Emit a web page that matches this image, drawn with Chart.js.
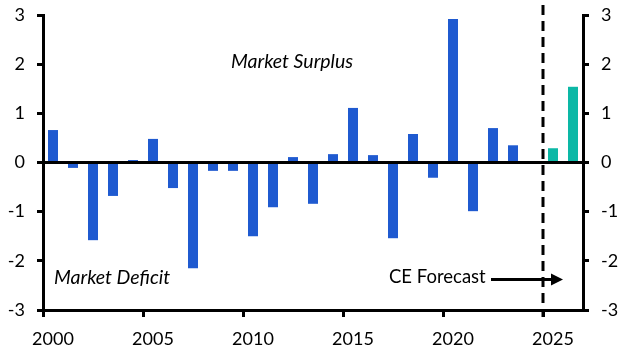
<!DOCTYPE html>
<html>
<head>
<meta charset="utf-8">
<script src="https://cdn.jsdelivr.net/npm/chart.js@4"></script>
<style>
    html, body { margin: 0; padding: 0; background: #fff; }
    #wrap { width: 633px; height: 362px; }
</style>
</head>
<body>
<div id="wrap"><canvas id="chart" width="633" height="362"></canvas></div>
<script>
/* global Chart */

const years = [];
for (let y = 2000; y <= 2026; y++) years.push(String(y));

// market balance, actuals (blue) and CE forecast (teal)
const actual = [0.66, -0.11, -1.58, -0.68, 0.05, 0.48, -0.52, -2.15, -0.17, -0.17,
    -1.50, -0.91, 0.11, -0.84, 0.17, 1.11, 0.15, -1.54, 0.58, -0.31,
    2.92, -0.99, 0.70, 0.35, null, null, null];
const forecast = [null, null, null, null, null, null, null, null, null, null,
    null, null, null, null, null, null, null, null, null, null,
    null, null, null, null, null, 0.29, 1.54];

const yTicks = [-3, -2, -1, 0, 1, 2, 3];
const forecastStart = '2025';

const FONT = 'Lato';
const BLUE = '#1f5ad0';
const TEAL = '#0cb8a6';

const annotations = {
    id: 'annotations',
    afterDatasetsDraw(chart) {
        const { ctx, scales: { x, y } } = chart;
        const i = years.indexOf(forecastStart);
        const xLine = (x.getPixelForValue(i - 1) + x.getPixelForValue(i)) / 2;

        ctx.save();
        // forecast divider
        ctx.strokeStyle = '#000';
        ctx.lineWidth = 3;
        ctx.setLineDash([10, 6]);
        ctx.beginPath();
        ctx.moveTo(xLine, 5);
        ctx.lineTo(xLine, y.bottom + 7);
        ctx.stroke();
        ctx.setLineDash([]);

        ctx.fillStyle = '#000';
        ctx.textBaseline = 'middle';
        ctx.font = `italic 19.5px ${FONT}`;
        ctx.textAlign = 'left';
        ctx.fillText('Market Surplus', 231, y.getPixelForValue(2.05));
        ctx.fillText('Market Deficit', 54, y.getPixelForValue(-2.35));

        ctx.font = `18.5px ${FONT}`;
        ctx.fillText('CE Forecast', 389, y.getPixelForValue(-2.33));

        // arrow
        const ay = y.getPixelForValue(-2.38);
        ctx.lineWidth = 3;
        ctx.beginPath();
        ctx.moveTo(491, ay);
        ctx.lineTo(552, ay);
        ctx.stroke();
        ctx.beginPath();
        ctx.moveTo(563, ay);
        ctx.lineTo(551, ay - 6);
        ctx.lineTo(551, ay + 6);
        ctx.closePath();
        ctx.fill();
        ctx.restore();
    }
};

const tickFont = { family: FONT, size: 18 };

function fitY(width) {
    return s => {
        s.width = width;
        s.paddingTop = 0;
        s.paddingBottom = 0;
    };
}

new Chart(document.getElementById('chart'), {
    type: 'bar',
    data: {
        labels: years,
        datasets: [
            { label: 'Actual', data: actual, backgroundColor: BLUE, barPercentage: 0.5, categoryPercentage: 1 },
            { label: 'Forecast', data: forecast, backgroundColor: TEAL, barPercentage: 0.5, categoryPercentage: 1 }
        ]
    },
    options: {
        responsive: false,
        animation: false,
        layout: { padding: { top: 15, left: 0, right: 0, bottom: 0 } },
        plugins: { legend: { display: false }, tooltip: { enabled: false } },
        scales: {
            x: {
                stacked: true,
                offset: true,
                afterFit: s => { s.height = 52; },
                border: { display: true, color: '#000', width: 3 },
                grid: {
                    offset: true,
                    drawOnChartArea: false,
                    tickLength: 7,
                    lineWidth: 3,
                    color: ctx => (ctx.index % 5 === 0 ? '#000' : 'rgba(0,0,0,0)')
                },
                ticks: {
                    autoSkip: false,
                    maxRotation: 0,
                    padding: 11,
                    color: '#000',
                    font: tickFont,
                    callback: (v, i) => (i % 5 === 0 ? years[i] : '')
                }
            },
            y: {
                stacked: true,
                position: 'left',
                min: -3,
                max: 3,
                afterFit: fitY(43),
                afterBuildTicks: s => { s.ticks = yTicks.map(v => ({ value: v })); },
                border: { display: true, color: '#000', width: 3 },
                grid: {
                    drawOnChartArea: true,
                    tickLength: 6,
                    lineWidth: 3,
                    color: ctx => (ctx.tick && ctx.tick.value === 0 ? '#000' : 'rgba(0,0,0,0)'),
                    tickColor: '#000'
                },
                ticks: { padding: 12, color: '#000', font: tickFont }
            },
            y2: {
                position: 'right',
                min: -3,
                max: 3,
                afterFit: fitY(50),
                afterBuildTicks: s => { s.ticks = yTicks.map(v => ({ value: v })); },
                border: { display: true, color: '#000', width: 3 },
                grid: { drawOnChartArea: false, tickLength: 6, lineWidth: 3, color: '#000' },
                ticks: { padding: 12, color: '#000', font: tickFont }
            }
        }
    },
    plugins: [annotations]
});
</script>
</body>
</html>
